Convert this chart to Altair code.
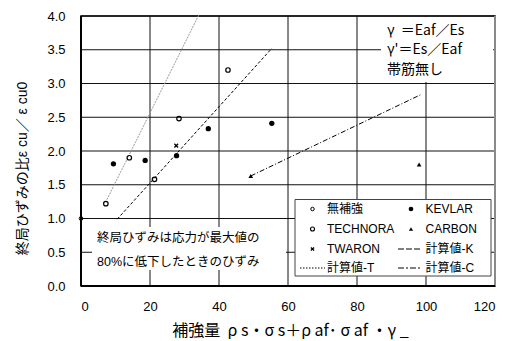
import altair as alt
import pandas as pd

FONT = "Liberation Sans, Arial, Noto Sans CJK JP, sans-serif"
CJK = "Noto Sans CJK JP, sans-serif"
NB = "\u00a0"

# --- data ---
none_x = [0.0]
none_y = [1.0]
technora_x = [7.2, 14.0, 21.3, 28.4, 42.6]
technora_y = [1.22, 1.90, 1.58, 2.48, 3.20]
kevlar_x = [9.4, 18.6, 27.7, 36.9, 55.3]
kevlar_y = [1.81, 1.86, 1.93, 2.33, 2.41]
twaron_x = [27.6]
twaron_y = [2.08]
carbon_x = [49.2, 98.0]
carbon_y = [1.63, 1.80]

calc_t_x = [7.5, 34.2]
calc_t_y = [1.28, 4.02]
calc_k_x = [10.5, 55.3]
calc_k_y = [0.99, 3.52]
calc_c_x = [49.2, 98.7]
calc_c_y = [1.63, 2.84]

x_ticks = [0, 20, 40, 60, 80, 100, 120]
y_ticks = [0.0, 0.5, 1.0, 1.5, 2.0, 2.5, 3.0, 3.5, 4.0]

legend_labels = ["無補強", "KEVLAR", "TECHNORA", "CARBON", "TWARON", "計算値-K", "計算値-T", "計算値-C"]
note_lines = ["終局ひずみは応力が最大値の", "80%に低下したときのひずみ"]
gamma_lines = ["γ" + NB + NB + "＝Eaf／Es", "γ'＝Es／Eaf", "帯筋無し"]
x_title = ("補強量" + NB + NB + "ρ" + NB + "s・σ" + NB + "s＋ρ" + NB + "af･" + NB + "σ" + NB
           + "af" + NB + "・γ" + NB + "_")
y_title = "終局ひずみの比ε" + NB + "cu／" + NB + "ε" + NB + "cu0"

W, H = 414, 270

xs = alt.Scale(domain=[0, 120], nice=False, zero=False)
ys = alt.Scale(domain=[0, 4], nice=False, zero=False)

x_axis = alt.Axis(values=x_ticks, grid=False, ticks=False, domain=False, labelPadding=14,
                  title=x_title, titleFont=CJK, titleFontSize=16,
                  titleX=209, titleY=44, titleBaseline="middle", titleAlign="center")
y_axis = alt.Axis(values=y_ticks, grid=False, ticks=False, domain=False, labelPadding=16, format=".1f",
                  title=y_title, titleFont=FONT, titleFontSize=14,
                  titleX=-59, titleY=152, titleAngle=270, titleBaseline="middle", titleAlign="center")


def df(x, y):
    return pd.DataFrame({"x": x, "y": y})


def enc(ch):
    return ch.encode(x=alt.X("x:Q", scale=xs, axis=x_axis), y=alt.Y("y:Q", scale=ys, axis=y_axis))


layers = []

# grid lines from the tick lists
vgrid = pd.DataFrame({"x": [v for v in x_ticks if 0 < v < 120]})
hgrid = pd.DataFrame({"y": [v for v in y_ticks if v > 0]})
layers.append(alt.Chart(vgrid).mark_rule(color="#111", strokeWidth=1).encode(
    x=alt.X("x:Q", scale=xs, axis=x_axis)))
layers.append(alt.Chart(hgrid).mark_rule(color="#111", strokeWidth=1).encode(
    y=alt.Y("y:Q", scale=ys, axis=y_axis)))
# right border (gray) and axis lines (thick black)
layers.append(alt.Chart(pd.DataFrame({"x": [120]})).mark_rule(color="#8a8a8a", strokeWidth=2).encode(
    x=alt.X("x:Q", scale=xs, axis=x_axis)))
layers.append(alt.Chart(pd.DataFrame({"x": [0]})).mark_rule(color="black", strokeWidth=2).encode(
    x=alt.X("x:Q", scale=xs, axis=x_axis)))
layers.append(alt.Chart(pd.DataFrame({"y": [0]})).mark_rule(color="black", strokeWidth=2).encode(
    y=alt.Y("y:Q", scale=ys, axis=y_axis)))

# calculated lines
layers.append(enc(alt.Chart(df(calc_t_x, calc_t_y)).mark_line(color="#9a9a9a", strokeWidth=1, strokeDash=[2, 1], clip=False)))
layers.append(enc(alt.Chart(df(calc_k_x, calc_k_y)).mark_line(color="black", strokeWidth=1, strokeDash=[3, 2])))
layers.append(enc(alt.Chart(df(calc_c_x, calc_c_y)).mark_line(color="black", strokeWidth=1, strokeDash=[5, 2, 1, 2])))

XSHAPE = "M-1,-1L1,1M-1,1L1,-1"

# points
layers.append(enc(alt.Chart(df(none_x, none_y)).mark_point(shape="circle", filled=False, color="black", size=14, strokeWidth=1, opacity=1, clip=False)))
layers.append(enc(alt.Chart(df(technora_x, technora_y)).mark_point(shape="circle", filled=False, color="black", size=20, strokeWidth=1.2, opacity=1)))
layers.append(enc(alt.Chart(df(kevlar_x, kevlar_y)).mark_point(shape="circle", filled=True, color="black", size=28, opacity=1)))
layers.append(enc(alt.Chart(df(twaron_x, twaron_y)).mark_point(shape=XSHAPE, filled=False, color="black", size=14, strokeWidth=1.3, opacity=1)))
layers.append(enc(alt.Chart(df(carbon_x, carbon_y)).mark_point(shape="triangle-up", filled=True, color="black", size=22, opacity=1)))

base = alt.Chart(pd.DataFrame({"d": [0]}))

# top-right note box
layers.append(base.mark_rect(fill="white").encode(x=alt.value(300), x2=alt.value(412), y=alt.value(1), y2=alt.value(66)))
for i, t in enumerate(gamma_lines):
    layers.append(base.mark_text(text=t, align="left", baseline="middle", fontSize=14, font=CJK).encode(
        x=alt.value(306), y=alt.value(15 + 19.3 * i)))

# lower-left note box
layers.append(base.mark_rect(fill="white").encode(x=alt.value(11), x2=alt.value(205), y=alt.value(211), y2=alt.value(254)))
for i, t in enumerate(note_lines):
    layers.append(base.mark_text(text=t, align="left", baseline="middle", fontSize=12.5, font=FONT).encode(
        x=alt.value(16), y=alt.value(222 + 23.5 * i)))

# legend box
layers.append(base.mark_rect(fill="white", stroke="#444", strokeWidth=1).encode(
    x=alt.value(214), x2=alt.value(410), y=alt.value(183.5), y2=alt.value(260)))
row_y = [193, 213, 233, 252]
col_sym = [231.5, 330]
col_txt = [246, 344.5]
for i, lab in enumerate(legend_labels):
    r, c = i // 2, i % 2
    layers.append(base.mark_text(text=lab, align="left", baseline="middle", fontSize=12, font=FONT).encode(
        x=alt.value(col_txt[c]), y=alt.value(row_y[r])))

sym_specs = [
    (0, 0, dict(shape="circle", filled=False, size=12, strokeWidth=1)),
    (0, 1, dict(shape="circle", filled=True, size=22)),
    (1, 0, dict(shape="circle", filled=False, size=16, strokeWidth=1.1)),
    (1, 1, dict(shape="triangle-up", filled=True, size=18)),
    (2, 0, dict(shape=XSHAPE, filled=False, size=10, strokeWidth=1.3)),
]
for r, c, kw in sym_specs:
    layers.append(base.mark_point(color="black", opacity=1, **kw).encode(
        x=alt.value(col_sym[c]), y=alt.value(row_y[r])))

layers.append(base.mark_rule(color="black", strokeWidth=1, strokeDash=[1.5, 1.5]).encode(
    x=alt.value(219), x2=alt.value(244), y=alt.value(row_y[3])))
layers.append(base.mark_rule(color="black", strokeWidth=1, strokeDash=[6, 2]).encode(
    x=alt.value(317), x2=alt.value(341), y=alt.value(row_y[2])))
layers.append(base.mark_rule(color="black", strokeWidth=1, strokeDash=[6, 2, 2, 2]).encode(
    x=alt.value(317), x2=alt.value(341), y=alt.value(row_y[3])))

chart = alt.layer(*layers).properties(
    width=W, height=H,
    autosize=alt.AutoSizeParams(type="none"),
    padding={"left": 73, "top": 8, "right": 3, "bottom": 55},
).configure(font=FONT, background="white").configure_view(
    stroke="black", strokeWidth=1.5
).configure_axis(
    labelFont=FONT, labelFontSize=13, labelColor="black",
    titleFontWeight="normal", titleColor="black",
)

chart.save("out.html", embed_options={"renderer": "svg", "actions": False})
